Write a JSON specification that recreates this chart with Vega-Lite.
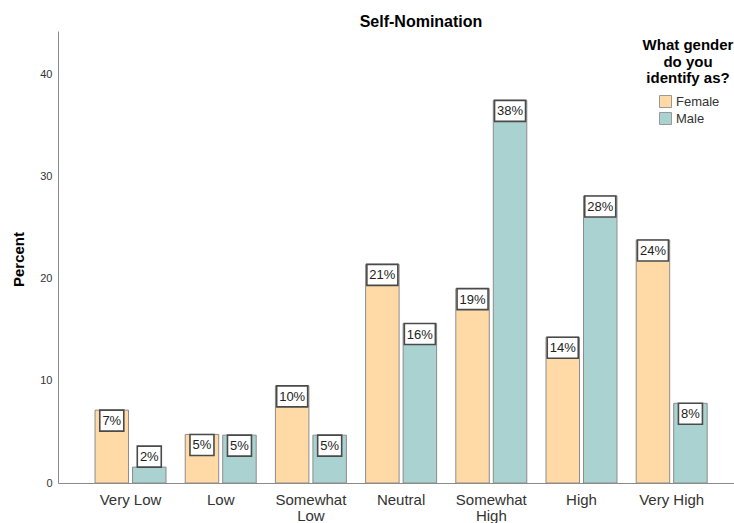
{
  "$schema": "https://vega.github.io/schema/vega-lite/v6.json",
  "width": 676,
  "height": 452,
  "autosize": {"type": "none"},
  "padding": {"left": 58, "top": 31, "right": 0, "bottom": 40},
  "background": "white",
  "config": {
    "view": {"stroke": null},
    "font": "Liberation Sans"
  },
  "title": {
    "text": "Self-Nomination",
    "font": "Liberation Sans",
    "fontSize": 16,
    "fontWeight": "bold",
    "color": "#000000",
    "anchor": "middle",
    "frame": "group",
    "dx": 25,
    "dy": 16,
    "baseline": "alphabetic",
    "offset": 4
  },
  "data": {
    "values": [
      {"level": "Very Low", "gender": "Female", "pct": 7.14},
      {"level": "Very Low", "gender": "Male", "pct": 1.56},
      {"level": "Low", "gender": "Female", "pct": 4.76},
      {"level": "Low", "gender": "Male", "pct": 4.69},
      {"level": "Somewhat Low", "gender": "Female", "pct": 9.52},
      {"level": "Somewhat Low", "gender": "Male", "pct": 4.69},
      {"level": "Neutral", "gender": "Female", "pct": 21.43},
      {"level": "Neutral", "gender": "Male", "pct": 15.63},
      {"level": "Somewhat High", "gender": "Female", "pct": 19.05},
      {"level": "Somewhat High", "gender": "Male", "pct": 37.5},
      {"level": "High", "gender": "Female", "pct": 14.29},
      {"level": "High", "gender": "Male", "pct": 28.13},
      {"level": "Very High", "gender": "Female", "pct": 23.81},
      {"level": "Very High", "gender": "Male", "pct": 7.81}
    ]
  },
  "transform": [
    {"calculate": "format(datum.pct, '.0f') + '%'", "as": "label"}
  ],
  "encoding": {
    "x": {
      "field": "level",
      "type": "nominal",
      "sort": ["Very Low", "Low", "Somewhat Low", "Neutral", "Somewhat High", "High", "Very High"],
      "scale": {"paddingInner": 0.213, "paddingOuter": 0.354, "align": 0.58},
      "axis": {
        "title": null,
        "labelAngle": 0,
        "labelFontSize": 15,
        "labelColor": "#333333",
        "labelPadding": 9,
        "labelLineHeight": 16,
        "labelExpr": "datum.label == 'Somewhat Low' ? ['Somewhat', 'Low'] : datum.label == 'Somewhat High' ? ['Somewhat', 'High'] : datum.label",
        "ticks": false,
        "tickSize": 0,
        "domainColor": "#8a8a8a",
        "domainWidth": 1,
        "grid": false
      }
    },
    "xOffset": {
      "field": "gender",
      "type": "nominal",
      "sort": ["Female", "Male"],
      "scale": {"paddingInner": 0.107, "paddingOuter": 0}
    },
    "y": {
      "field": "pct",
      "type": "quantitative",
      "scale": {"domain": [0, 44.3], "nice": false},
      "axis": {
        "values": [0, 10, 20, 30, 40],
        "grid": false,
        "ticks": false,
        "tickSize": 0,
        "labelPadding": 6,
        "labelFontSize": 11,
        "labelColor": "#333333",
        "domainColor": "#8a8a8a",
        "domainWidth": 1,
        "title": "Percent",
        "titleFontSize": 15,
        "titleFontWeight": "bold",
        "titleColor": "#000000",
        "titleAngle": 270,
        "titleAlign": "center",
        "titleBaseline": "alphabetic",
        "titleX": -35,
        "titleY": 228
      }
    }
  },
  "layer": [
    {
      "mark": {"type": "bar", "stroke": "#8c8c8c", "strokeWidth": 1},
      "encoding": {
        "color": {
          "field": "gender",
          "type": "nominal",
          "scale": {"domain": ["Female", "Male"], "range": ["#FFDAA6", "#A9D2D1"]},
          "legend": {
            "orient": "none",
            "legendX": 585,
            "legendY": 7,
            "padding": 0,
            "title": ["What gender", "do you", "identify as?"],
            "titleFontSize": 15,
            "titleFontWeight": "bold",
            "titleColor": "#000000",
            "titleAlign": "center",
            "titleAnchor": "middle",
            "titleLineHeight": 16.5,
            "titlePadding": 9,
            "titleLimit": 300,
            "labelFontSize": 13,
            "labelColor": "#333333",
            "symbolType": "square",
            "symbolSize": 144,
            "symbolStrokeColor": "#999999",
            "symbolStrokeWidth": 1,
            "symbolOffset": 3,
            "labelOffset": 4,
            "rowPadding": 0
          }
        }
      }
    },
    {
      "transform": [{"filter": "datum.pct >= 2.5"}],
      "mark": {"type": "point", "size": 4, "filled": true, "fill": "#ffffff", "stroke": "#4a4a4a", "strokeWidth": 1.6, "opacity": 1},
      "encoding": {
        "shape": {
          "condition": {"test": "datum.pct >= 9.5", "value": "M-15.5,0H15.5V21H-15.5Z"},
          "value": "M-12,0H12V21H-12Z"
        }
      }
    },
    {
      "transform": [{"filter": "datum.pct >= 2.5"}],
      "mark": {"type": "text", "dy": 11, "baseline": "middle", "align": "center", "fontSize": 13, "color": "#222222"},
      "encoding": {"text": {"field": "label"}}
    },
    {
      "transform": [{"filter": "datum.pct < 2.5"}],
      "mark": {"type": "point", "size": 4, "filled": true, "fill": "#ffffff", "stroke": "#4a4a4a", "strokeWidth": 1.6, "opacity": 1, "shape": "M-12,-21H12V0H-12Z"}
    },
    {
      "transform": [{"filter": "datum.pct < 2.5"}],
      "mark": {"type": "text", "dy": -10, "baseline": "middle", "align": "center", "fontSize": 13, "color": "#222222"},
      "encoding": {"text": {"field": "label"}}
    }
  ]
}
